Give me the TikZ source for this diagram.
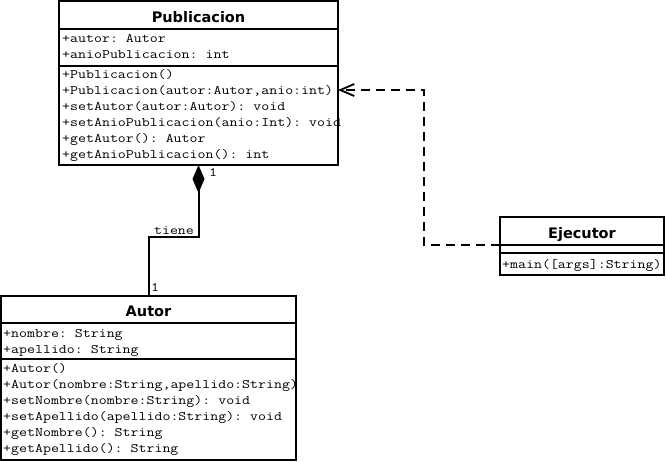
\documentclass[tikz,border=0pt]{standalone}
\usepackage{fontspec}
\setmonofont{Latin Modern Mono}[FakeStretch=1.19]
\newfontfamily\titlefont{DejaVu Sans}
\usetikzlibrary{arrows.meta}
\tikzset{
  classbox/.style={draw, line width=2pt, inner sep=0pt, outer sep=0pt, anchor=north west},
  sepline/.style={line width=2pt},
  member/.style={anchor=base west, inner sep=0pt, font=\ttfamily\fontsize{13}{16}\selectfont},
  classtitle/.style={anchor=base, inner sep=0pt, font=\titlefont\bfseries\fontsize{14.5}{16}\selectfont},
  mult/.style={anchor=base, inner sep=0pt, font=\ttfamily\fontsize{13}{16}\selectfont},
  compo/.style={line width=2pt, -{Diamond[length=28pt,width=12pt]}},
  depend/.style={line width=2pt, dash pattern=on 9pt off 6pt, -{Straight Barb[length=14pt,width=12pt,line width=1.8pt]}}
}
\begin{document}
\begin{tikzpicture}[x=1pt,y=-1pt]
\useasboundingbox (0,0) rectangle (666,461);
% Publicacion
\node[classbox, minimum width=279pt, minimum height=164pt] (pub) at (59,1) {};
\draw[sepline] (59,29) -- (338,29);
\draw[sepline] (59,66) -- (338,66);
\node[classtitle] (pubt) at (198.5,22) {Publicacion};
\node[member] (pa1) at (62,42) {+autor: Autor};
\node[member] (pa2) at (62,58) {+anioPublicacion: int};
\node[member] (pm1) at (62,78) {+Publicacion()};
\node[member] (pm2) at (62,94) {+Publicacion(autor:Autor,anio:int)};
\node[member] (pm3) at (62,110) {+setAutor(autor:Autor): void};
\node[member] (pm4) at (62,126) {+setAnioPublicacion(anio:Int): void};
\node[member] (pm5) at (62,142) {+getAutor(): Autor};
\node[member] (pm6) at (62,158) {+getAnioPublicacion(): int};
% Autor
\node[classbox, minimum width=295pt, minimum height=164pt] (aut) at (1,296) {};
\draw[sepline] (1,323) -- (296,323);
\draw[sepline] (1,359) -- (296,359);
\node[classtitle] (autt) at (148.5,316) {Autor};
\node[member] (aa1) at (3,337) {+nombre: String};
\node[member] (aa2) at (3,353) {+apellido: String};
\node[member] (am1) at (3,372) {+Autor()};
\node[member] (am2) at (3,388) {+Autor(nombre:String,apellido:String)};
\node[member] (am3) at (3,404) {+setNombre(nombre:String): void};
\node[member] (am4) at (3,420) {+setApellido(apellido:String): void};
\node[member] (am5) at (3,436) {+getNombre(): String};
\node[member] (am6) at (3,452) {+getApellido(): String};
% Ejecutor
\node[classbox, minimum width=164pt, minimum height=58pt] (eje) at (500,217) {};
\draw[sepline] (500,245) -- (664,245);
\draw[sepline] (500,253) -- (664,253);
\node[classtitle] (ejet) at (582,238) {Ejecutor};
\node[member] (em1) at (502,268) {+main([args]:String)};
% composition
\draw[compo] (aut.north) -- ++(0,-59) -| (pub.south);
\node[mult] (tiene) at (174,234) {tiene};
\node[mult] (m1) at (213,176) {1};
\node[mult] (m2) at (155,291) {1};
% dependency
\draw[depend] ([yshift=1pt]eje.west) -- ++(-76,0) |- ([yshift=-7pt]pub.east);
\end{tikzpicture}
\end{document}
